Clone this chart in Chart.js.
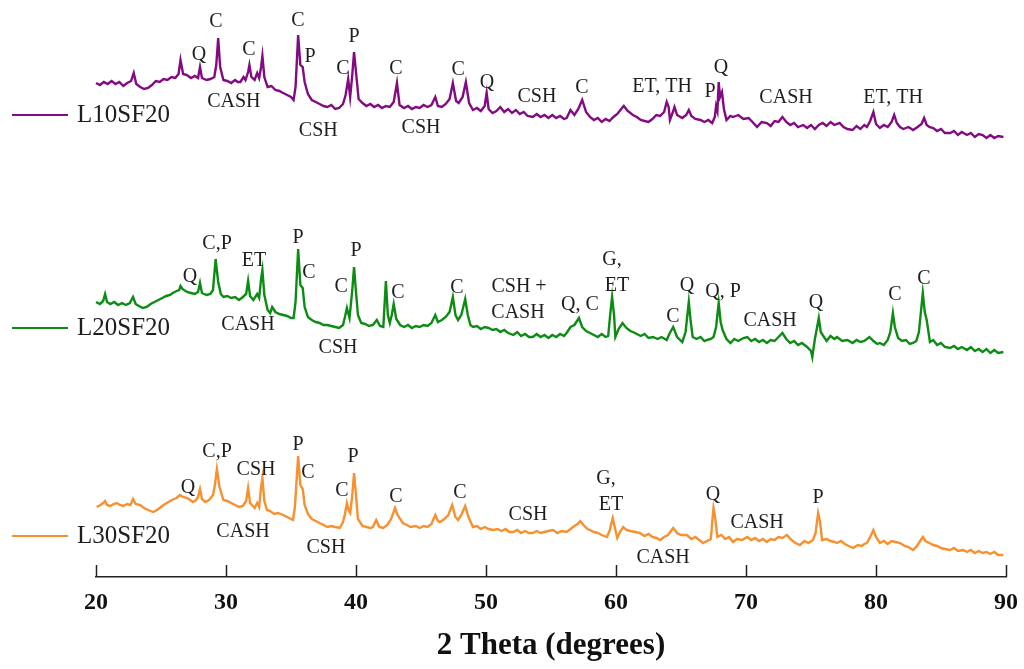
<!DOCTYPE html>
<html><head><meta charset="utf-8">
<script src="https://cdn.jsdelivr.net/npm/chart.js@4.4.1/dist/chart.umd.min.js"></script>
<style>html,body{margin:0;padding:0;background:#fff}canvas{display:block}</style>
</head><body>
<canvas id="c" width="1024" height="669"></canvas>
<script>
// ---- data: [2θ (degrees), intensity (a.u., stacked offset)] ----
const seriesNames = ["L10SF20", "L20SF20", "L30SF20"];
const xTicks = [20, 30, 40, 50, 60, 70, 80, 90];

const L10SF20 = [[20.0,494],[20.3,492],[20.6,495],[20.9,493],[21.2,496],[21.5,493],[21.8,495],[22.1,491],[22.4,494],[22.7,496],[22.9,504],[23.1,493],[23.4,490],[23.7,488],[24.0,489],[24.3,492],[24.6,496],[24.9,495],[25.2,498],[25.5,497],[25.8,500],[26.1,499],[26.35,503],[26.5,517],[26.7,503],[27.0,502],[27.3,499],[27.6,501],[27.85,499],[28.0,510],[28.15,499],[28.5,497],[28.8,498],[29.1,500],[29.25,512],[29.4,539],[29.55,510],[29.8,497],[30.1,496],[30.4,494],[30.7,497],[30.9,495],[31.1,495],[31.35,500],[31.5,497],[31.7,505],[31.8,512],[31.95,500],[32.2,497],[32.4,504],[32.55,499],[32.7,510],[32.8,521],[32.95,500],[33.2,490],[33.5,491],[33.8,487],[34.1,486],[34.4,484],[34.7,482],[35.0,480],[35.2,477],[35.35,490],[35.55,542],[35.72,512],[35.9,510],[36.05,495],[36.3,483],[36.6,477],[36.9,475],[37.2,473],[37.5,471],[37.8,470],[38.1,472],[38.4,468],[38.7,469],[39.0,473],[39.2,482],[39.4,498],[39.55,480],[39.7,500],[39.85,525],[40.0,505],[40.2,478],[40.5,474],[40.8,471],[41.1,473],[41.4,470],[41.7,472],[42.0,469],[42.3,471],[42.6,470],[42.9,475],[43.15,494],[43.35,472],[43.7,469],[44.0,471],[44.3,468],[44.6,470],[44.9,469],[45.2,472],[45.5,470],[45.8,472],[46.1,480],[46.3,471],[46.6,470],[46.9,473],[47.2,478],[47.45,494],[47.7,476],[47.9,474],[48.2,480],[48.45,495],[48.7,474],[49.0,467],[49.3,469],[49.6,466],[49.9,471],[50.05,484],[50.2,468],[50.5,464],[50.8,466],[51.1,470],[51.4,465],[51.7,468],[52.0,464],[52.3,467],[52.6,463],[52.9,465],[53.2,461],[53.6,460],[53.9,463],[54.2,460],[54.5,462],[54.8,459],[55.1,462],[55.4,459],[55.7,461],[56.0,458],[56.2,459],[56.5,467],[56.8,462],[57.1,468],[57.4,477],[57.7,465],[58.0,460],[58.3,457],[58.6,459],[58.9,455],[59.2,458],[59.5,456],[59.8,460],[60.1,463],[60.4,468],[60.6,471],[60.9,466],[61.3,462],[61.6,460],[61.9,457],[62.2,456],[62.5,455],[62.8,458],[63.1,462],[63.4,461],[63.7,465],[63.9,475],[64.05,470],[64.15,457],[64.35,464],[64.5,470],[64.7,462],[65.1,459],[65.4,462],[65.6,467],[65.8,461],[66.1,458],[66.5,457],[66.8,455],[67.1,457],[67.4,454],[67.6,460],[67.7,471],[67.8,466],[67.9,495],[68.0,480],[68.15,485],[68.3,468],[68.5,457],[68.8,461],[69.0,460],[69.4,462],[69.8,458],[70.2,459],[70.5,455],[70.85,450],[71.2,455],[71.6,454],[71.9,451],[72.2,456],[72.5,455],[72.8,460],[73.1,455],[73.4,452],[73.7,454],[74.0,450],[74.4,452],[74.7,449],[75.0,452],[75.3,448],[75.6,452],[75.9,454],[76.2,451],[76.5,455],[76.8,452],[77.2,454],[77.5,450],[77.8,448],[78.2,447],[78.5,451],[78.8,448],[79.1,452],[79.3,450],[79.55,456],[79.8,465],[80.0,453],[80.3,449],[80.6,452],[80.9,450],[81.2,455],[81.4,462],[81.6,454],[81.85,450],[82.1,448],[82.5,450],[82.85,447],[83.2,450],[83.5,453],[83.7,459],[83.9,452],[84.1,450],[84.4,449],[84.7,446],[85.0,448],[85.3,444],[85.7,444],[86.0,446],[86.3,442],[86.6,445],[87.0,442],[87.3,444],[87.6,440],[87.9,443],[88.2,442],[88.5,439],[88.8,442],[89.1,439],[89.4,441],[89.8,440]];

const L20SF20 = [[20.0,275],[20.3,273],[20.55,276],[20.7,283],[20.85,275],[21.1,273],[21.4,275],[21.7,272],[22.0,274],[22.3,272],[22.6,274],[22.85,280],[23.05,273],[23.3,271],[23.6,269],[23.9,270],[24.2,273],[24.5,275],[24.8,277],[25.1,279],[25.4,281],[25.7,282],[25.9,284],[26.2,286],[26.4,287],[26.5,291],[26.65,288],[27.0,285],[27.3,284],[27.6,283],[27.85,285],[28.0,294],[28.15,284],[28.5,282],[28.8,283],[29.0,287],[29.2,318],[29.4,295],[29.6,283],[29.8,280],[30.1,281],[30.4,279],[30.7,280],[31.0,277],[31.3,280],[31.55,283],[31.7,296],[31.85,281],[32.1,277],[32.4,283],[32.55,279],[32.7,298],[32.8,307],[32.95,282],[33.2,267],[33.4,264],[33.55,270],[33.8,265],[34.1,263],[34.4,262],[34.7,261],[35.0,259],[35.2,259],[35.35,275],[35.55,328],[35.72,292],[35.9,289],[36.05,270],[36.3,260],[36.6,257],[36.9,255],[37.2,254],[37.5,252],[37.8,252],[38.1,251],[38.4,250],[38.7,249],[39.0,252],[39.15,260],[39.3,269],[39.5,259],[39.7,285],[39.85,310],[40.0,285],[40.15,262],[40.4,254],[40.7,253],[41.0,251],[41.3,252],[41.6,257],[41.85,251],[42.1,250],[42.3,296],[42.45,262],[42.6,254],[42.75,262],[42.9,273],[43.1,258],[43.4,252],[43.7,250],[44.0,252],[44.3,249],[44.6,251],[44.9,250],[45.2,252],[45.5,251],[45.8,254],[46.1,262],[46.3,255],[46.6,257],[46.9,260],[47.2,265],[47.45,280],[47.65,262],[47.85,257],[48.1,262],[48.4,278],[48.6,262],[48.8,252],[49.0,250],[49.3,251],[49.6,248],[49.9,250],[50.2,249],[50.5,247],[50.8,248],[51.1,245],[51.4,247],[51.7,244],[52.1,242],[52.4,245],[52.7,241],[53.0,243],[53.3,240],[53.6,240],[53.9,243],[54.2,240],[54.5,242],[54.8,239],[55.1,242],[55.4,240],[55.7,243],[56.0,241],[56.2,244],[56.5,250],[56.8,252],[57.15,259],[57.4,250],[57.7,246],[58.0,244],[58.3,242],[58.6,240],[58.9,243],[59.2,240],[59.4,241],[59.55,262],[59.7,280],[59.85,262],[59.95,240],[60.2,248],[60.5,254],[60.8,249],[61.1,246],[61.3,245],[61.6,243],[61.9,241],[62.2,243],[62.5,239],[62.85,240],[63.2,238],[63.5,240],[63.9,237],[64.1,243],[64.4,250],[64.7,240],[65.1,235],[65.35,245],[65.6,275],[65.75,255],[65.9,240],[66.2,238],[66.5,240],[66.8,236],[67.0,237],[67.3,238],[67.5,240],[67.7,250],[67.9,274],[68.05,255],[68.2,247],[68.5,238],[68.8,234],[69.1,238],[69.4,236],[69.8,239],[70.1,240],[70.4,236],[70.7,238],[71.0,235],[71.3,237],[71.6,234],[71.9,237],[72.2,236],[72.5,240],[72.8,244],[73.1,238],[73.4,234],[73.7,236],[74.0,232],[74.3,234],[74.7,230],[75.0,226],[75.1,220],[75.3,238],[75.6,259],[75.75,245],[75.9,242],[76.2,236],[76.5,241],[76.8,238],[77.0,240],[77.4,236],[77.8,237],[78.2,234],[78.5,237],[78.8,235],[79.1,236],[79.5,240],[79.8,236],[80.1,233],[80.3,234],[80.6,232],[80.9,237],[81.1,245],[81.3,264],[81.45,250],[81.7,239],[82.0,236],[82.3,237],[82.6,233],[82.85,234],[83.1,236],[83.3,245],[83.6,284],[83.75,265],[83.9,257],[84.15,235],[84.4,237],[84.7,232],[85.0,234],[85.3,230],[85.7,229],[86.0,231],[86.3,228],[86.6,230],[87.0,227],[87.3,230],[87.6,226],[87.9,228],[88.2,225],[88.5,228],[88.8,224],[89.1,227],[89.4,224],[89.8,225]];

const L30SF20 = [[20.05,70],[20.35,72],[20.55,74],[20.7,76],[20.85,72],[21.1,71],[21.35,73],[21.6,74],[21.85,72],[22.1,71],[22.4,73],[22.65,72],[22.85,78],[23.05,73],[23.4,72],[23.7,69],[24.0,67],[24.4,65],[24.7,67],[25.0,70],[25.2,72],[25.45,74],[25.7,76],[26.0,78],[26.2,79],[26.45,82],[26.7,80],[27.0,79],[27.25,77],[27.45,75],[27.7,77],[27.85,80],[28.0,88],[28.15,78],[28.4,75],[28.7,77],[29.0,82],[29.15,92],[29.3,108],[29.5,90],[29.8,77],[30.1,76],[30.4,74],[30.7,72],[31.0,70],[31.3,71],[31.55,76],[31.7,89],[31.85,74],[32.2,69],[32.4,74],[32.55,70],[32.7,90],[32.8,99],[32.95,76],[33.15,67],[33.4,66],[33.7,63],[34.0,64],[34.4,62],[34.7,60],[35.0,58],[35.15,57],[35.3,70],[35.55,121],[35.72,92],[35.9,88],[36.05,72],[36.3,63],[36.6,58],[36.9,56],[37.2,54],[37.5,52],[37.8,50],[38.1,51],[38.4,50],[38.75,49],[39.0,55],[39.15,63],[39.3,74],[39.45,66],[39.55,64],[39.7,80],[39.85,104],[40.0,82],[40.15,58],[40.5,51],[40.8,50],[41.1,49],[41.3,50],[41.55,57],[41.8,50],[42.1,49],[42.4,52],[42.7,58],[43.0,69],[43.2,62],[43.6,54],[43.9,52],[44.2,50],[44.6,51],[44.9,49],[45.2,51],[45.5,50],[45.8,53],[46.1,62],[46.3,56],[46.45,55],[46.8,58],[47.1,62],[47.4,72],[47.65,60],[47.85,57],[48.1,62],[48.4,71],[48.65,60],[49.0,50],[49.3,51],[49.6,48],[49.9,50],[50.2,48],[50.55,47],[50.9,48],[51.2,46],[51.5,48],[51.8,45],[52.1,45],[52.4,47],[52.7,44],[53.0,46],[53.3,44],[53.6,44],[53.9,46],[54.2,44],[54.5,45],[54.8,46],[55.15,47],[55.5,44],[55.8,46],[56.2,45],[56.5,48],[56.8,51],[57.05,53],[57.25,56],[57.5,52],[57.8,48],[58.0,47],[58.3,45],[58.6,44],[58.9,42],[59.3,40],[59.5,46],[59.75,59],[59.9,50],[60.1,39],[60.3,45],[60.55,50],[60.8,47],[61.1,46],[61.5,45],[61.85,44],[62.2,41],[62.5,43],[62.8,40],[63.1,39],[63.4,37],[63.7,40],[64.0,42],[64.4,49],[64.7,44],[65.0,42],[65.45,42],[65.8,38],[66.1,40],[66.4,37],[66.7,34],[67.0,36],[67.3,38],[67.4,55],[67.5,69],[67.6,62],[67.8,40],[68.1,42],[68.4,38],[68.7,40],[69.0,35],[69.3,38],[69.7,37],[70.1,40],[70.4,37],[70.7,39],[71.0,36],[71.3,38],[71.6,35],[71.9,38],[72.2,37],[72.5,40],[72.8,39],[73.15,42],[73.5,37],[73.8,34],[74.15,32],[74.5,36],[74.8,34],[75.15,37],[75.35,44],[75.55,64],[75.7,55],[75.85,37],[76.2,38],[76.5,36],[76.8,35],[77.0,34],[77.3,36],[77.6,33],[77.9,31],[78.25,29],[78.6,32],[78.9,31],[79.1,33],[79.3,34],[79.55,40],[79.8,47],[80.0,40],[80.3,34],[80.6,36],[80.9,33],[81.2,36],[81.5,35],[81.85,34],[82.2,31],[82.5,30],[82.85,27],[83.1,30],[83.4,36],[83.6,40],[83.8,36],[84.1,34],[84.4,32],[84.7,31],[85.0,29],[85.3,28],[85.7,27],[86.0,29],[86.3,26],[86.7,27],[87.0,25],[87.3,27],[87.6,24],[87.9,26],[88.2,24],[88.5,25],[88.8,23],[89.1,25],[89.4,22],[89.8,22]];

// phase labels: [text, 2θ, intensity]
const phases10 = [["C",29.23,555],["Q",27.92,522],["C",31.77,527],["CASH",30.6,475],["C",35.54,556],["P",36.46,520],["P",39.85,540],["C",39.0,508],["CSH",37.1,446],["C",43.08,508],["CSH",45.0,449],["C",47.85,507],["Q",50.08,494],["CSH",53.92,480],["C",57.38,489],["ET, TH",63.54,490],["P",67.23,485],["Q",68.08,509],["CASH",73.08,479],["ET, TH",81.31,479]];
const phases20 = [["Q",27.23,300],["C,P",29.31,333],["ET",32.15,316],["CASH",31.69,252],["P",35.54,339],["C",36.38,304],["C",38.85,290],["P",40.0,326],["CSH",38.62,229],["C",43.23,284],["C",47.77,289],["CSH +",52.54,290],["CASH",52.46,264],["Q, C",57.23,272],["G,",59.69,317],["ET",60.08,291],["C",64.38,260],["Q",65.46,291],["Q, P",68.23,285],["CASH",71.85,256],["Q",75.38,274],["C",81.46,282],["C",83.69,298]];
const phases30 = [["Q",27.08,89],["C,P",29.31,125],["CSH",32.31,107],["CASH",31.31,45],["P",35.54,132],["C",36.31,104],["C",38.92,86],["P",39.77,120],["CSH",37.69,29],["C",43.08,80],["C",48.0,84],["CSH",53.23,62],["G,",59.23,98],["ET",59.62,72],["CASH",63.62,19],["Q",67.46,82],["CASH",70.85,54],["P",75.54,79]];
const legendLevels = [462, 249, 41];

const colors = ["#820a82", "#0c8c12", "#f7902f"];
const SERIF = "'Liberation Serif','Times New Roman',serif";

const toXY = a => a.map(p => ({x: p[0], y: p[1]}));

const overlay = {
  id: 'overlay',
  afterDraw(chart) {
    const ctx = chart.ctx, xs = chart.scales.x, ys = chart.scales.y;
    const ca = chart.chartArea;
    ctx.save();
    ctx.strokeStyle = '#222'; ctx.lineWidth = 1.5;
    xTicks.forEach(v => {
      const px = Math.round(xs.getPixelForValue(v)) + 0.5;
      ctx.beginPath(); ctx.moveTo(px, ca.bottom); ctx.lineTo(px, ca.bottom - 12); ctx.stroke();
    });
    ctx.fillStyle = '#1e1e1e';
    ctx.font = `20px ${SERIF}`;
    ctx.textAlign = 'center'; ctx.textBaseline = 'middle';
    [phases10, phases20, phases30].forEach(list => list.forEach(l => {
      ctx.fillText(l[0], xs.getPixelForValue(l[1]), ys.getPixelForValue(l[2]));
    }));
    ctx.font = `25px ${SERIF}`; ctx.textAlign = 'left';
    seriesNames.forEach((n, i) => {
      const py = ys.getPixelForValue(legendLevels[i]);
      ctx.strokeStyle = colors[i]; ctx.lineWidth = 2;
      ctx.beginPath(); ctx.moveTo(12, py); ctx.lineTo(68, py); ctx.stroke();
      ctx.fillStyle = '#1e1e1e';
      ctx.fillText(n, 77, py);
    });
    ctx.restore();
  }
};

new Chart(document.getElementById('c'), {
  type: 'line',
  data: {
    datasets: [L10SF20, L20SF20, L30SF20].map((d, i) => ({
      label: seriesNames[i], data: toXY(d), borderColor: colors[i], borderWidth: 2.4,
      pointRadius: 0, tension: 0, fill: false, clip: false
    }))
  },
  options: {
    responsive: false, animation: false,
    layout: {padding: {left: 96, right: 18, top: 0, bottom: 0}},
    plugins: {legend: {display: false}, tooltip: {enabled: false}},
    scales: {
      x: {
        type: 'linear', min: 20, max: 90,
        afterBuildTicks(s) { s.ticks = xTicks.map(v => ({value: v})); },
        afterFit(s) { s.height = 92; s.paddingLeft = 0; s.paddingRight = 0; },
        ticks: {font: {family: SERIF, size: 24, weight: 'bold'}, color: '#111', padding: 11, maxRotation: 0},
        grid: {display: false, drawTicks: false},
        border: {display: true, color: '#222', width: 1.5},
        title: {display: true, text: '2 Theta (degrees)', color: '#111',
                font: {family: SERIF, size: 31, weight: 'bold'}, padding: {top: 0, bottom: 4}}
      },
      y: {display: false, min: 0, max: 577}
    }
  },
  plugins: [overlay]
});
</script>
</body></html>
